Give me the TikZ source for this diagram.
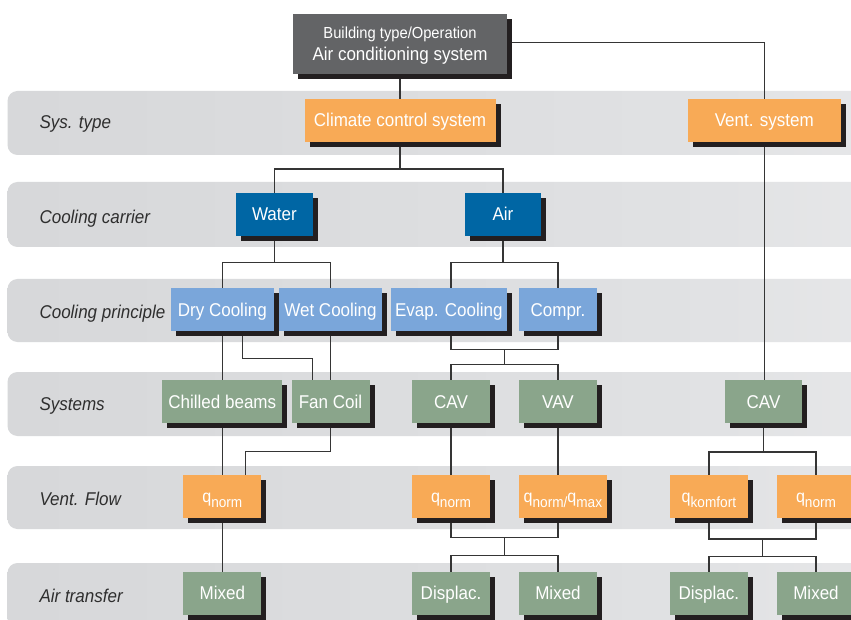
\documentclass[tikz,border=0pt]{standalone}
\usepackage{fontspec}
\setmainfont{Liberation Sans}[FakeStretch=0.92]
\usetikzlibrary{shadows}
\definecolor{topc}{HTML}{636466}
\definecolor{orangec}{HTML}{F8AA56}
\definecolor{dblue}{HTML}{0066A4}
\definecolor{lblue}{HTML}{7AA6DA}
\definecolor{greenc}{HTML}{8AA58B}
\definecolor{shadowc}{HTML}{231F20}
\definecolor{linec}{HTML}{353535}
\definecolor{lblc}{HTML}{2E2E2E}
\definecolor{bandA}{HTML}{D3D4D6}
\definecolor{bandB}{HTML}{D8D9DB}
\definecolor{bandC}{HTML}{E1E2E4}
\definecolor{bandD}{HTML}{EEEEEF}
\definecolor{bandE}{HTML}{F8F8F8}
\pgfdeclarehorizontalshading{bandshade}{100bp}{color(0bp)=(bandA); color(31bp)=(bandB); color(66bp)=(bandC); color(87bp)=(bandD); color(100bp)=(bandE)}
\pgfdeclarelayer{bands}
\pgfdeclarelayer{lines}
\pgfsetlayers{bands,lines,main}
\newcommand\bfnt{\fontsize{18.5}{22}\selectfont}
\newcommand\qq[1]{\raisebox{1pt}{\fontsize{17.5}{18}\selectfont q}\raisebox{-4.5pt}{\fontsize{14.8}{16}\selectfont #1}}
\begin{document}
\begin{tikzpicture}[x=1pt,y=-1pt,
  box/.style={inner sep=0pt, minimum height=42.7pt, text height=13.3pt, text depth=0pt,
    text=white, font=\bfnt,
    drop shadow={shadow xshift=5pt, shadow yshift=-5pt, opacity=1, fill=shadowc}},
  orbox/.style={box, fill=orangec},
  dbbox/.style={box, fill=dblue},
  lbbox/.style={box, fill=lblue},
  grbox/.style={box, fill=greenc},
  lbl/.style={inner sep=0pt, anchor=base west, text=lblc, font=\bfnt\itshape},
  conn/.style={draw=linec, line width=1.5pt},
  band/.style={shading=bandshade, rounded corners=10pt}]
\useasboundingbox (0,0) rectangle (851,620);
\begin{pgfonlayer}{bands}
  \fill[white] (0,0) rectangle (851,620);
  \path[band] (7.5,91) rectangle (880,155);
  \path[band] (7.5,182) rectangle (880,247);
  \path[band] (7.5,279) rectangle (880,342);
  \path[band] (7.5,372) rectangle (880,436);
  \path[band] (7.5,466) rectangle (880,529);
  \path[band] (7.5,563) rectangle (880,630);
\end{pgfonlayer}

% labels
\node[lbl] (l1) at (39.3,129) {Sys. type};
\node[lbl] (l2) at (39.3,223.1) {Cooling carrier};
\node[lbl] (l3) at (39.3,318.2) {Cooling principle};
\node[lbl] (l4) at (39.3,410) {Systems};
\node[lbl] (l5) at (39.3,505) {Vent. Flow};
\node[lbl] (l6) at (39.3,602) {Air transfer};

% top
\node[box, fill=topc, minimum width=213.4pt, minimum height=60pt] (top) at (400,44.3) {};
\node[inner sep=0pt, anchor=base, text=white, font=\fontsize{16}{19}\selectfont] (t1) at (400,38.3) {Building type/Operation};
\node[inner sep=0pt, anchor=base, text=white, font=\bfnt] (t2) at (400,61) {Air conditioning system};

% row 1
\node[orbox, minimum width=191pt] (clim) at (400,120.35) {Climate control system};
\node[orbox, minimum width=152.7pt] (vent) at (764.3,120.35) {Vent. system};
% row 2
\node[dbbox, minimum width=76.7pt] (water) at (274.4,214.35) {Water};
\node[dbbox, minimum width=75.7pt] (air) at (502.9,214.35) {Air};
% row 3
\node[lbbox, minimum width=102.7pt] (dry) at (222.3,309.5) {Dry Cooling};
\node[lbbox, minimum width=102.7pt] (wet) at (330.5,309.5) {Wet Cooling};
\node[lbbox, minimum width=115.7pt] (evap) at (448.9,309.5) {Evap. Cooling};
\node[lbbox, minimum width=77.7pt] (compr) at (558,309.5) {Compr.};
% row 4
\node[grbox, minimum width=120pt] (chill) at (222.3,401.35) {Chilled beams};
\node[grbox, minimum width=78pt] (fan) at (330.5,401.35) {Fan Coil};
\node[grbox, minimum width=77.7pt] (cav) at (451,401.35) {CAV};
\node[grbox, minimum width=77.7pt] (vav) at (558,401.35) {VAV};
\node[grbox, minimum width=77.7pt] (cavR) at (763.5,401.35) {CAV};
% row 5
\node[orbox, minimum width=77.7pt] (qa) at (222.3,496.35) {\qq{norm}};
\node[orbox, minimum width=77.7pt] (qb) at (451,496.35) {\qq{norm}};
\node[orbox, minimum width=87.7pt] (qc) at (562.9,496.35) {\qq{norm/}\qq{max}};
\node[orbox, minimum width=77.7pt] (qk) at (708.9,496.35) {\qq{komfort}};
\node[orbox, minimum width=78pt] (qn) at (816,496.35) {\qq{norm}};
% row 6
\node[grbox, minimum width=77.7pt] (mixA) at (222.3,593.3) {Mixed};
\node[grbox, minimum width=77.7pt] (disB) at (451,593.3) {Displac.};
\node[grbox, minimum width=77.7pt] (mixB) at (558,593.3) {Mixed};
\node[grbox, minimum width=77.7pt] (disR) at (708.9,593.3) {Displac.};
\node[grbox, minimum width=78pt] (mixR) at (816,593.3) {Mixed};

% junction coordinates
\coordinate (tv) at (764.3,42.7);
\coordinate (c1) at (400,169);
\coordinate (w1) at (274.4,262.3);
\coordinate (a1) at (502.9,262.3);
\coordinate (d1) at (242.3,358.7);
\coordinate (d2) at (312.7,358.7);
\coordinate (e1) at (504.5,349.3);
\coordinate (e2) at (504.5,364.3);
\coordinate (f1) at (330.5,451.7);
\coordinate (f2) at (245.7,451.7);
\coordinate (r1) at (763.5,452);
\coordinate (v1) at (504.5,537.7);
\coordinate (v2) at (504.5,555.7);
\coordinate (r2) at (762.4,539);
\coordinate (r3) at (762.4,556.7);

\begin{pgfonlayer}{lines}
  \draw[conn] (top.south -| clim.north) -- (clim.north);
  \draw[conn] (top.east |- tv) -- (tv) -- (vent.north);
  \draw[conn] (clim.south) -- (c1);
  \draw[conn] (water.north) |- (c1) -| (air.north);
  \draw[conn] (water.south) -- (w1);
  \draw[conn] (dry.north) |- (w1) -| (wet.north);
  \draw[conn] (air.south) -- (a1);
  \draw[conn] (evap.north -| cav.north) |- (a1) -| (compr.north);
  \draw[conn] (dry.south) -- (chill.north);
  \draw[conn] (dry.south -| d1) -- (d1) -- (d2) -- (d2 |- fan.north);
  \draw[conn] (wet.south) -- (fan.north);
  \draw[conn] (evap.south -| cav.north) |- (e1) -| (compr.south);
  \draw[conn] (e1) -- (e2);
  \draw[conn] (cav.north) |- (e2) -| (vav.north);
  \draw[conn] (vent.south) -- (vent.south |- cavR.north);
  \draw[conn] (chill.south) -- (qa.north);
  \draw[conn] (fan.south) -- (f1) -- (f2) -- (f2 |- qa.north);
  \draw[conn] (cav.south) -- (qb.north);
  \draw[conn] (vav.south) -- (vav.south |- qc.north);
  \draw[conn] (cavR.south) -- (r1);
  \draw[conn] (qk.north) |- (r1) -| (qn.north);
  \draw[conn] (qa.south) -- (mixA.north);
  \draw[conn] (qb.south) |- (v1) -| (vav.south |- qc.south);
  \draw[conn] (v1) -- (v2);
  \draw[conn] (disB.north) |- (v2) -| (mixB.north);
  \draw[conn] (qk.south) |- (r2) -| (qn.south);
  \draw[conn] (r2) -- (r3);
  \draw[conn] (disR.north) |- (r3) -| (mixR.north);
\end{pgfonlayer}
\end{tikzpicture}
\end{document}
